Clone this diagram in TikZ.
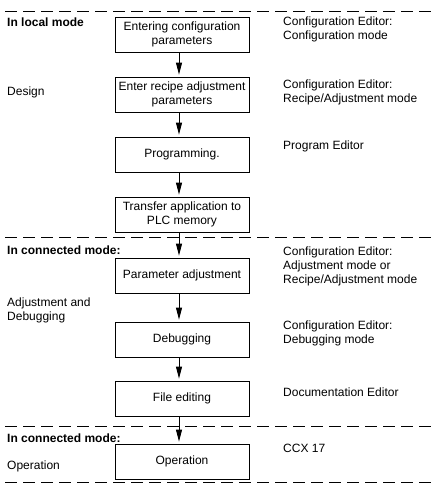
\documentclass[tikz,border=0pt]{standalone}
\usepackage{fontspec}
\setmainfont{Liberation Sans}
\usetikzlibrary{arrows.meta}

\begin{document}
\begin{tikzpicture}[x=1pt,y=1pt,font=\fontsize{12}{14}\selectfont,
  stepbox/.style={draw,line width=0.8pt,minimum width=134pt,minimum height=35pt,inner sep=1pt,align=center},
  lbl/.style={anchor=west,align=left,inner sep=0pt},
  flow/.style={line width=0.9pt,-{Triangle[length=12pt,width=6pt]},shorten >=2pt},
  sep/.style={line width=0.8pt,dash pattern=on 12pt off 6pt}]
\useasboundingbox (0,0) rectangle (437,-489);
\draw[sep] (5,-11) -- (432,-11);
\draw[sep] (5,-237) -- (432,-237);
\draw[sep] (5,-426) -- (432,-426);
\draw[sep] (5,-482) -- (432,-482);
\node[stepbox] (entercfg) at (182,-34.5) {Entering configuration\\parameters};
\node[stepbox] (enterrecipe) at (182,-94.5) {Enter recipe adjustment\\parameters};
\node[stepbox] (programming) at (182,-154.5) {Programming.};
\node[stepbox] (transfer) at (182,-214.5) {Transfer application to\\PLC memory};
\node[stepbox] (paramadj) at (182,-275.5) {Parameter adjustment};
\node[stepbox] (debugging) at (182,-339.5) {Debugging};
\node[stepbox] (fileedit) at (182,-398.5) {File editing};
\node[stepbox] (operation) at (182,-461.5) {Operation};
\draw[flow] ([xshift=-3pt]entercfg.south) -- ([xshift=-3pt]enterrecipe.north);
\draw[flow] ([xshift=-3pt]enterrecipe.south) -- ([xshift=-3pt]programming.north);
\draw[flow] ([xshift=-3pt]programming.south) -- ([xshift=-3pt]transfer.north);
\draw[flow] ([xshift=-3pt]transfer.south) -- ([xshift=-3pt]paramadj.north);
\draw[flow] ([xshift=-3pt]paramadj.south) -- ([xshift=-3pt]debugging.north);
\draw[flow] ([xshift=-3pt]debugging.south) -- ([xshift=-3pt]fileedit.north);
\draw[flow] ([xshift=-3pt]fileedit.south) -- ([xshift=-3pt]operation.north);
% phases on the left
\node[lbl] (localmode) at (7,-22) {\textbf{In local mode}};
\node[lbl] (design) at (7,-92) {Design};
\node[lbl] (connmode) at (7,-250) {\textbf{In connected mode:}};
\node[lbl] (adjdebug) at (7,-310) {Adjustment and\\Debugging};
\node[lbl] (connmodeb) at (7,-438) {\textbf{In connected mode:}};
\node[lbl] (oper) at (7,-466) {Operation};
% tools on the right
\node[lbl] (edcfg) at (283,-29.5) {Configuration Editor:\\Configuration mode};
\node[lbl] (edrecipe) at (283,-92) {Configuration Editor:\\Recipe/Adjustment mode};
\node[lbl] (edprog) at (283,-146) {Program Editor};
\node[lbl] (edadj) at (283,-266) {Configuration Editor:\\Adjustment mode or\\Recipe/Adjustment mode};
\node[lbl] (eddebug) at (283,-333) {Configuration Editor:\\Debugging mode};
\node[lbl] (eddoc) at (283,-392) {Documentation Editor};
\node[lbl] (ccx) at (283,-448) {CCX 17};
\end{tikzpicture}
\end{document}
